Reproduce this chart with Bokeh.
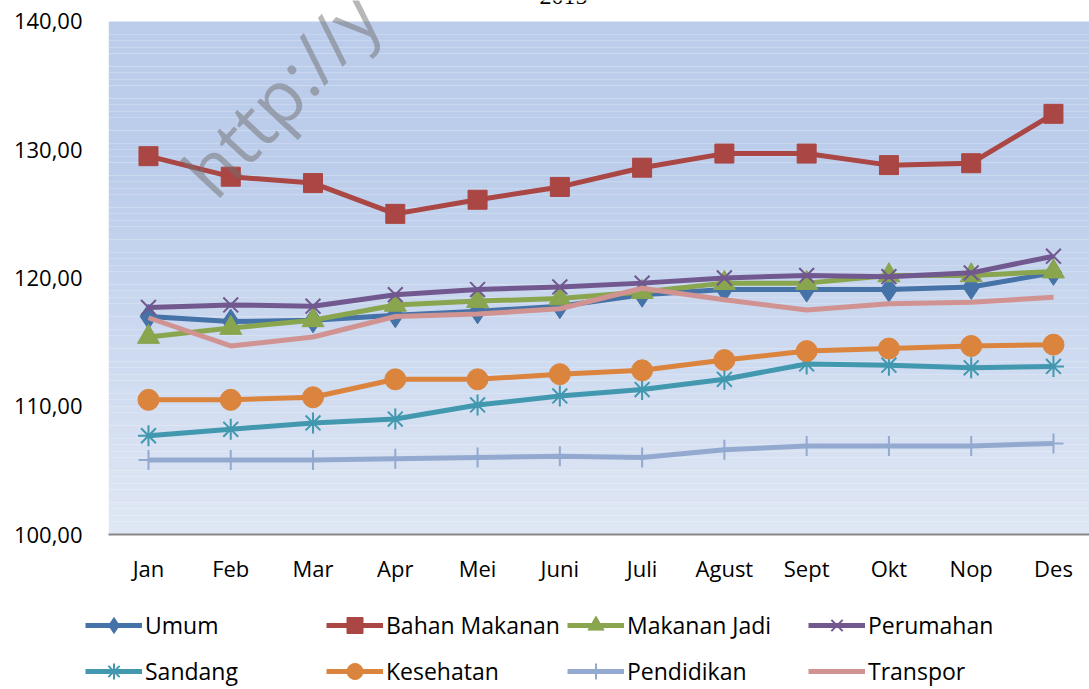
from bokeh.plotting import figure
from bokeh.layouts import column, row
from bokeh.models import Range1d, FixedTicker, Legend, LegendItem, BoxAnnotation, Label
from bokeh.embed import file_html
from bokeh.resources import INLINE
import numpy as np

months = ["Jan", "Feb", "Mar", "Apr", "Mei", "Juni", "Juli", "Agust", "Sept", "Okt", "Nop", "Des"]
umum = [117.0, 116.6, 116.7, 117.1, 117.4, 117.8, 118.7, 119.1, 119.1, 119.1, 119.3, 120.4]
bahan_makanan = [129.5, 127.9, 127.4, 125.0, 126.1, 127.1, 128.6, 129.7, 129.7, 128.8, 128.95, 132.8]
makanan_jadi = [115.4, 116.1, 116.7, 117.9, 118.2, 118.4, 118.9, 119.6, 119.6, 120.2, 120.2, 120.5]
perumahan = [117.7, 117.9, 117.8, 118.7, 119.1, 119.3, 119.6, 120.0, 120.2, 120.1, 120.4, 121.7]
sandang = [107.7, 108.2, 108.7, 109.0, 110.1, 110.8, 111.3, 112.1, 113.3, 113.2, 113.0, 113.1]
kesehatan = [110.5, 110.5, 110.7, 112.1, 112.1, 112.5, 112.8, 113.6, 114.3, 114.5, 114.7, 114.8]
pendidikan = [105.8, 105.8, 105.8, 105.9, 106.0, 106.1, 106.0, 106.6, 106.9, 106.9, 106.9, 107.1]
transpor = [116.9, 114.7, 115.4, 117.0, 117.2, 117.6, 119.2, 118.3, 117.5, 118.0, 118.1, 118.5]
y_ticks = [100, 110, 120, 130, 140]
y_tick_labels = ["100,00", "110,00", "120,00", "130,00", "140,00"]
title_text = "2015"
watermark_text = "http://y"

x = list(range(len(months)))
FONT = "Open Sans"
Y_MIN, Y_MAX = 100, 140

# main chart; the frame reaches the top of the canvas so the cut title and
# watermark can show above the plot area, like the original
p = figure(width=1089, height=600, output_backend="svg", toolbar_location=None, title=None,
           x_range=Range1d(-0.486, 11.438), y_range=Range1d(100, 141.637),
           min_border_left=108, min_border_right=0, min_border_top=0, min_border_bottom=66)
p.outline_line_color = None
p.background_fill_color = "white"
p.border_fill_color = "white"
p.xgrid.visible = False
p.ygrid.visible = False

# gradient plot-area background (100..140)
nb = 80
edges = np.linspace(Y_MAX, Y_MIN, nb + 1)
top_c = np.array([188, 205, 235])
bot_c = np.array([223, 231, 244])
for i in range(nb):
    t = (i + 0.5) / nb
    f = 0.0 if t < 0.3 else (t - 0.3) / 0.7
    c = top_c + (bot_c - top_c) * f
    col = "#%02x%02x%02x" % tuple(int(round(v)) for v in c)
    p.add_layout(BoxAnnotation(top=edges[i], bottom=edges[i + 1], fill_color=col,
                               fill_alpha=1.0, line_color=None, level="underlay"))

# axes
p.xaxis.ticker = FixedTicker(ticks=x)
p.xaxis.major_label_overrides = {i: m for i, m in zip(x, months)}
p.xaxis.axis_line_color = "#868686"
p.xaxis.axis_line_width = 2
p.xaxis.major_tick_line_color = None
p.xaxis.major_tick_out = 0
p.xaxis.major_tick_in = 0
p.xaxis.minor_tick_line_color = None
p.xaxis.major_label_standoff = 18
p.xaxis.major_label_text_font = FONT
p.xaxis.major_label_text_font_size = "22px"
p.xaxis.major_label_text_color = "black"

p.yaxis.ticker = FixedTicker(ticks=y_ticks)
p.yaxis.major_label_overrides = {t: l for t, l in zip(y_ticks, y_tick_labels)}
p.yaxis.axis_line_color = None
p.yaxis.major_tick_line_color = None
p.yaxis.major_tick_out = 0
p.yaxis.major_tick_in = 0
p.yaxis.minor_tick_line_color = None
p.yaxis.major_label_standoff = 26
p.yaxis.major_label_text_font = FONT
p.yaxis.major_label_text_font_size = "22px"
p.yaxis.major_label_text_color = "black"

LW = 5
series = [
    ("Umum", umum, "#4572a7", "diamond", 25, 1),
    ("Bahan Makanan", bahan_makanan, "#aa4643", "square", 19, 1),
    ("Makanan Jadi", makanan_jadi, "#89a54e", "triangle", 22, 1),
    ("Perumahan", perumahan, "#71588f", "x", 21, 2),
    ("Sandang", sandang, "#4198af", "asterisk", 21, 2),
    ("Kesehatan", kesehatan, "#db843d", "circle", 21, 1),
    ("Pendidikan", pendidikan, "#93a9cf", "cross", 20, 2),
    ("Transpor", transpor, "#d19392", None, 0, 0),
]


def draw(fig, xs, ys, color, marker, size, mlw):
    rs = [fig.line(xs, ys, line_color=color, line_width=LW, line_join="round")]
    if marker is not None:
        fill = None if marker in ("x", "asterisk", "cross") else color
        rs.append(fig.scatter(xs, ys, marker=marker, size=size, line_color=color,
                              line_width=mlw, fill_color=fill))
    return rs


for name, vals, color, marker, size, mlw in series:
    draw(p, x, vals, color, marker, size, mlw)

# watermark
p.add_layout(Label(x=0.571, y=127.37, text=watermark_text, angle=47, angle_units="deg",
                   text_font=FONT, text_font_size="72px", text_color="#6f6f6f", text_alpha=0.5,
                   text_baseline="alphabetic", text_align="left"))

# title, of which only the lower edge is visible in the original
p.add_layout(Label(x=5.045, y=141.91, text=title_text, text_font="Liberation Serif",
                   text_font_size="24px", text_color="black", text_align="center",
                   text_baseline="alphabetic"))

# legend: four narrow columns under the chart
col_widths = [326, 241, 241, 281]
col_left = [85, 0, 0, 0]
legend_figs = []
for c in range(4):
    lf = figure(width=col_widths[c], height=89, output_backend="svg", toolbar_location=None,
                title=None, x_range=Range1d(0, 1), y_range=Range1d(0, 1),
                x_axis_location=None, y_axis_location=None,
                min_border_left=col_left[c], min_border_right=0, min_border_top=5, min_border_bottom=0)
    lf.outline_line_color = None
    lf.xgrid.visible = False
    lf.ygrid.visible = False
    its = []
    for k in (c, c + 4):
        name, vals, color, marker, size, mlw = series[k]
        # same series drawn (outside the visible range) so the legend has real glyphs
        rs = draw(lf, x, vals, color, marker, size, mlw)
        its.append(LegendItem(label=name, renderers=rs))
    lg = Legend(items=its, orientation="vertical", location="top_left",
                glyph_width=57, glyph_height=40, label_standoff=3, spacing=6,
                padding=0, margin=0, border_line_color=None, background_fill_alpha=0,
                label_text_font=FONT, label_text_font_size="23px", label_text_color="black")
    lf.add_layout(lg, "center")
    legend_figs.append(lf)

layout = column(p, row(*legend_figs))
open("out.html", "w").write(file_html(layout, INLINE))
